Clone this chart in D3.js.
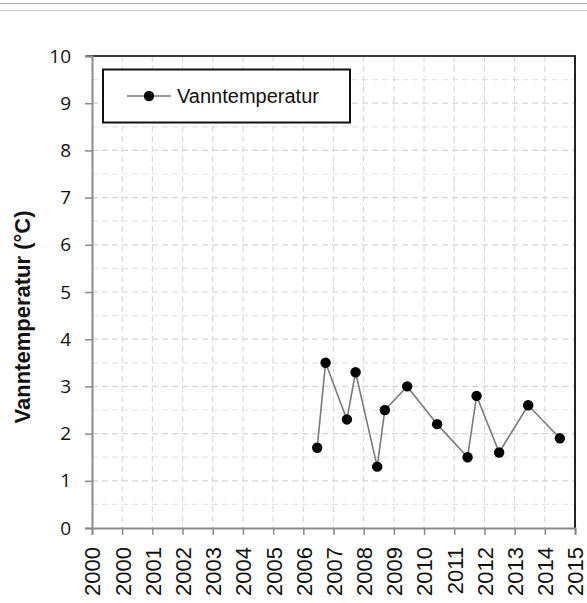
<!DOCTYPE html>
<html>
<head>
<meta charset="utf-8">
<script src="https://cdn.jsdelivr.net/npm/d3@7"></script>
<style>
  html, body { margin: 0; padding: 0; background: #fff; }
  svg { display: block; }
</style>
</head>
<body>
<svg id="chart" width="587" height="603"></svg>
<script>
// ---- data ----
const seriesName = "Vanntemperatur";
const dates = ["2007-06-16","2007-09-25","2008-06-09","2008-09-22","2009-06-10","2009-09-11",
               "2010-06-08","2011-06-05","2012-06-07","2012-09-24","2013-06-24","2014-06-10","2015-06-28"];
const values = [1.7, 3.5, 2.3, 3.3, 1.3, 2.5, 3.0, 2.2, 1.5, 2.8, 1.6, 2.6, 1.9];
const xTickLabels = ["2000","2000","2001","2002","2003","2004","2005","2006","2007","2008",
                     "2009","2010","2011","2012","2013","2014","2015"];
const yTicks = [0,1,2,3,4,5,6,7,8,9,10];
const yTitle = "Vanntemperatur (°C)";

// ---- layout ----
const L = 92, R = 575, T = 56, B = 528;
const svg = d3.select("#chart");
const parse = d3.timeParse("%Y-%m-%d");
const start = new Date(2000, 0, 1);
const xTickDates = xTickLabels.map((_, i) => d3.timeDay.offset(start, i * 365));
const x = d3.scaleTime().domain([xTickDates[0], xTickDates[xTickDates.length - 1]]).range([L, R]);
const y = d3.scaleLinear().domain([0, 10]).range([B, T]);

// decorative page lines at top
svg.append("line").attr("x1", 0).attr("x2", 587).attr("y1", 3.5).attr("y2", 3.5)
  .attr("stroke", "#a8a8a8").attr("stroke-width", 1.2);
svg.append("line").attr("x1", 0).attr("x2", 587).attr("y1", 10.5).attr("y2", 10.5)
  .attr("stroke", "#cfcfcf").attr("stroke-width", 1.2);

// grid
const grid = svg.append("g");
const yGrid = d3.range(0.5, 10, 0.5);
grid.selectAll("line.hg").data(yGrid).join("line")
  .attr("x1", L).attr("x2", R).attr("y1", d => y(d)).attr("y2", d => y(d))
  .attr("stroke", d => (d % 1 === 0) ? "#d4d4d4" : "#e4e4e4")
  .attr("stroke-width", 1.2).attr("stroke-dasharray", "6,4");
grid.selectAll("line.vg").data(xTickDates.slice(1, -1)).join("line")
  .attr("x1", d => x(d)).attr("x2", d => x(d)).attr("y1", T).attr("y2", B)
  .attr("stroke", "#dadada").attr("stroke-width", 1.2).attr("stroke-dasharray", "6,4");

// frame top and right
svg.append("line").attr("x1", L - 6).attr("x2", R + 1).attr("y1", T).attr("y2", T)
  .attr("stroke", "#3a3a3a").attr("stroke-width", 2);
svg.append("line").attr("x1", R).attr("x2", R).attr("y1", T).attr("y2", B)
  .attr("stroke", "#222").attr("stroke-width", 2);

// y axis
const yAxis = svg.append("g").attr("transform", `translate(${L},0)`)
  .call(d3.axisLeft(y).tickValues(yTicks).tickSize(7).tickPadding(14).tickFormat(d3.format("d")));
yAxis.select(".domain").attr("stroke", "#8a8a8a").attr("stroke-width", 2);
yAxis.selectAll(".tick line").attr("stroke", "#8a8a8a").attr("stroke-width", 1.5);
yAxis.selectAll(".tick text").attr("font-family", "'Open Sans', 'Liberation Sans', sans-serif")
  .attr("font-size", 19).attr("fill", "#111");

// x axis
const xAxis = svg.append("g").attr("transform", `translate(0,${B})`)
  .call(d3.axisBottom(x).tickValues(xTickDates).tickSize(7)
    .tickFormat((d, i) => xTickLabels[i]));
xAxis.select(".domain").attr("stroke", "#8a8a8a").attr("stroke-width", 2);
xAxis.selectAll(".tick line").attr("stroke", "#8a8a8a").attr("stroke-width", 1.5);
xAxis.selectAll(".tick text")
  .attr("font-family", "'Liberation Sans', Arial, sans-serif")
  .attr("font-size", 22).attr("fill", "#111")
  .attr("text-anchor", "end").attr("dy", "0.36em")
  .attr("transform", "translate(0,19) rotate(-90)")
  .attr("x", 0).attr("y", 0);

// y title
svg.append("text")
  .attr("transform", "translate(30,317) rotate(-90)")
  .attr("text-anchor", "middle")
  .attr("font-family", "'Liberation Sans', Arial, sans-serif")
  .attr("font-weight", "bold").attr("font-size", 22).attr("fill", "#111")
  .text(yTitle);

// series
const pts = dates.map((d, i) => ({ date: parse(d), v: values[i] }));
svg.append("path").datum(pts)
  .attr("fill", "none").attr("stroke", "#7a7a7a").attr("stroke-width", 1.6)
  .attr("d", d3.line().x(d => x(d.date)).y(d => y(d.v)));
svg.selectAll("circle.pt").data(pts).join("circle")
  .attr("cx", d => x(d.date)).attr("cy", d => y(d.v)).attr("r", 5.2).attr("fill", "#000");

// legend
const lg = svg.append("g");
lg.append("rect").attr("x", 103).attr("y", 69.5).attr("width", 247).attr("height", 53)
  .attr("fill", "#fff").attr("stroke", "#111").attr("stroke-width", 2);
lg.append("line").attr("x1", 127).attr("x2", 171).attr("y1", 96).attr("y2", 96)
  .attr("stroke", "#7a7a7a").attr("stroke-width", 1.6);
lg.append("circle").attr("cx", 149).attr("cy", 96).attr("r", 5.2).attr("fill", "#000");
lg.append("text").attr("x", 177).attr("y", 103)
  .attr("font-family", "'Liberation Sans', Arial, sans-serif")
  .attr("font-size", 20).attr("fill", "#111").text(seriesName);
</script>
</body>
</html>
